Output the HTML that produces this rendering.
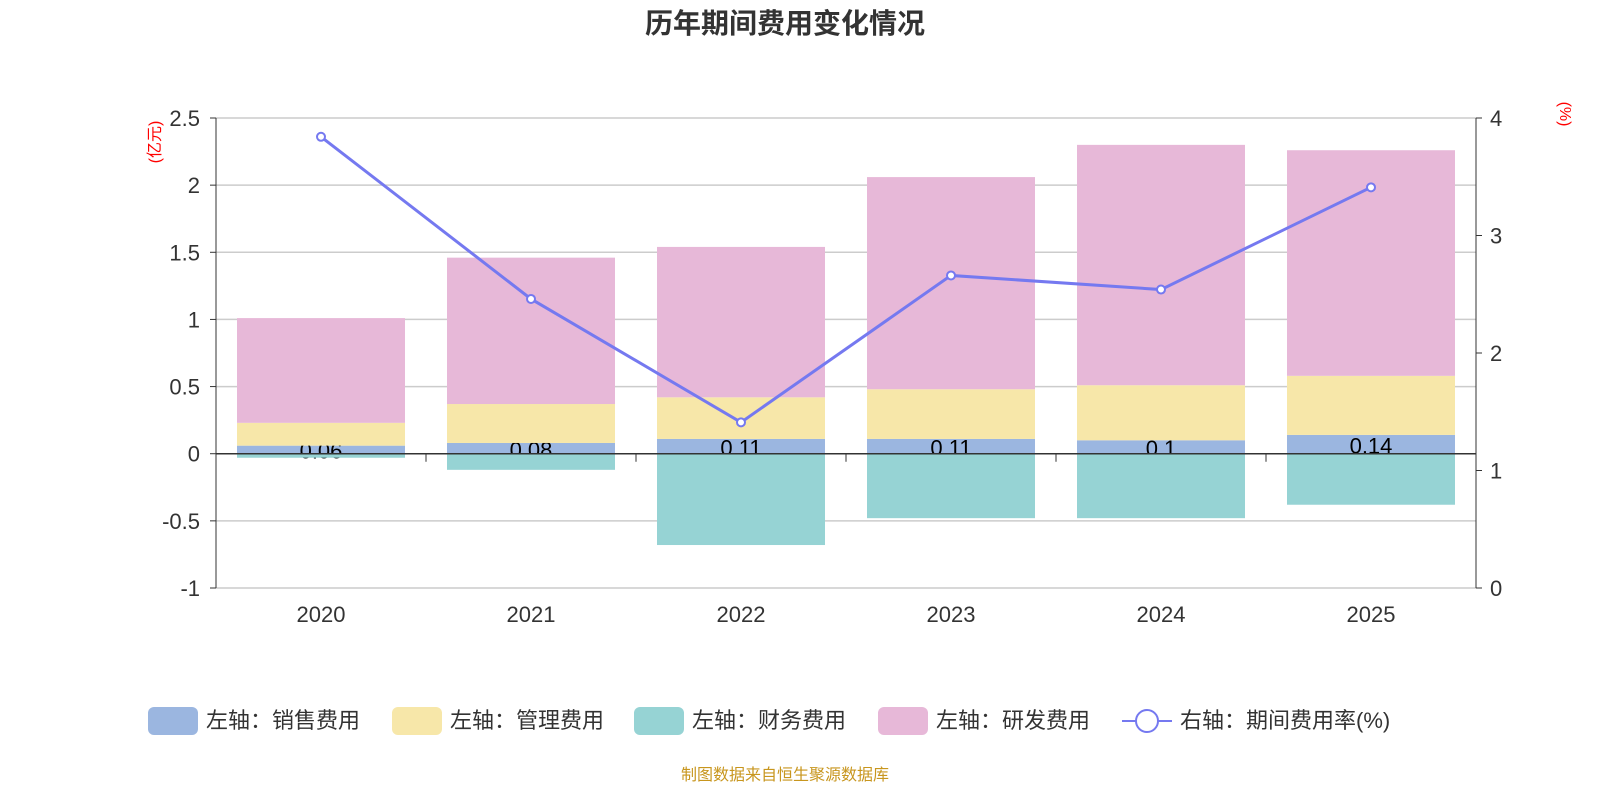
<!DOCTYPE html>
<html><head><meta charset="utf-8"><style>
body{margin:0;background:#fff;width:1600px;height:800px;overflow:hidden;font-family:"Liberation Sans","Noto Sans CJK SC",sans-serif}
</style></head><body>
<svg id="c" width="1600" height="800" xmlns="http://www.w3.org/2000/svg"></svg>
<script>
const categories=['2020','2021','2022','2023','2024','2025'];
const sales=[0.06,0.08,0.11,0.11,0.1,0.14];
const mgmt=[0.17,0.29,0.31,0.37,0.41,0.44];
const finance=[-0.03,-0.12,-0.68,-0.48,-0.48,-0.38];
const rnd=[0.78,1.09,1.12,1.58,1.79,1.68];
const rate=[3.84,2.46,1.41,2.66,2.54,3.41];
const leftTicks=[-1,-0.5,0,0.5,1,1.5,2,2.5];
const rightTicks=[0,1,2,3,4];
const salesLabels=['0.06','0.08','0.11','0.11','0.1','0.14'];

const NS='http://www.w3.org/2000/svg',svg=document.getElementById('c');
function el(t,a,txt){const e=document.createElementNS(NS,t);for(const k in a)e.setAttribute(k,a[k]);if(txt!=null)e.textContent=txt;svg.appendChild(e);return e;}
const X0=216,X1=1476,band=(X1-X0)/categories.length,BW=168;
const yL=v=>588-(v+1)*(470/3.5);
const yR=v=>588-v*(470/4);
const xc=i=>X0+band*(i+0.5);
const font='"Liberation Sans","Noto Sans CJK SC",sans-serif';

let t=el('text',{x:785,y:33,'text-anchor':'middle','font-size':28,'font-weight':'bold',fill:'#333','font-family':font},'历年期间费用变化情况');


leftTicks.forEach(v=>{
 if(v!==0){const g=el('line',{x1:X0,x2:X1,y1:yL(v),y2:yL(v),stroke:'#ccc','stroke-width':1.5});}
 const l=el('text',{x:200,y:yL(v)+8,'text-anchor':'end','font-size':22,fill:'#333','font-family':font},String(v));
 
 el('line',{x1:X0-6,x2:X0,y1:yL(v),y2:yL(v),stroke:'#333'});
});
rightTicks.forEach(v=>{
 const l=el('text',{x:1490,y:yR(v)+8,'font-size':22,fill:'#333','font-family':font},String(v));
 
 el('line',{x1:X1,x2:X1+6,y1:yR(v),y2:yR(v),stroke:'#333'});
});
let a=el('line',{x1:X0,x2:X0,y1:118,y2:588,stroke:'#333'});
a=el('line',{x1:X1,x2:X1,y1:118,y2:588,stroke:'#333'});
let u=el('text',{x:0,y:0,'font-size':16,fill:'red','font-family':font,transform:'translate(160,142) rotate(-90)','text-anchor':'middle'},'(亿元)');

u=el('text',{x:0,y:0,'font-size':16,fill:'red','font-family':font,transform:'translate(1560,114) rotate(90)','text-anchor':'middle'},'(%)');


categories.forEach((c,i)=>{
 const x=xc(i)-BW/2;
 let r=el('rect',{x,y:yL(sales[i]),width:BW,height:yL(0)-yL(sales[i]),fill:'#9bb6e0'});
 let lb=el('text',{x:xc(i),y:yL(sales[i]/2)+9,'text-anchor':'middle','font-size':22,fill:'#000','font-family':font},salesLabels[i]);
 const m0=sales[i],m1=sales[i]+mgmt[i];
 r=el('rect',{x,y:yL(m1),width:BW,height:yL(m0)-yL(m1),fill:'#f7e7a9'});
 r=el('rect',{x,y:yL(0),width:BW,height:yL(finance[i])-yL(0),fill:'#96d3d4'});
 const r1=m1+rnd[i];
 r=el('rect',{x,y:yL(r1),width:BW,height:yL(m1)-yL(r1),fill:'#e7b8d8'});
 const xl=el('text',{x:xc(i),y:622,'text-anchor':'middle','font-size':22,fill:'#333','font-family':font},c);
});
let z=el('line',{x1:X0,x2:X1,y1:yL(0),y2:yL(0),stroke:'#333','stroke-width':1.5});
for(let i=0;i<=categories.length;i++){el('line',{x1:X0+band*i,x2:X0+band*i,y1:yL(0),y2:yL(0)+8,stroke:'#333'});}

const pts=rate.map((v,i)=>xc(i)+','+yR(v)).join(' ');
let pl=el('polyline',{points:pts,fill:'none',stroke:'#7579f0','stroke-width':3});
rate.forEach((v,i)=>{const p=el('circle',{cx:xc(i),cy:yR(v),r:4,fill:'#fff',stroke:'#7579f0','stroke-width':2});});

const leg=[['左轴：销售费用','#9bb6e0',148],['左轴：管理费用','#f7e7a9',392],['左轴：财务费用','#96d3d4',634],['左轴：研发费用','#e7b8d8',878]];
leg.forEach(([n,c,x])=>{
 const g=el('rect',{x,y:707,width:50,height:28,rx:6,fill:c});
 const tt=el('text',{x:x+58,y:728,'font-size':22,fill:'#333','font-family':font},n);
});
el('line',{x1:1122,x2:1172,y1:721,y2:721,stroke:'#7579f0','stroke-width':2});
let lc=el('circle',{cx:1147,cy:721,r:11,fill:'#fff',stroke:'#7579f0','stroke-width':2});
let lt=el('text',{x:1180,y:728,'font-size':22,fill:'#333','font-family':font},'右轴：期间费用率(%)');
let s=el('text',{x:785,y:780,'text-anchor':'middle','font-size':16,fill:'#c8961e','font-family':font},'制图数据来自恒生聚源数据库');
</script>
</body></html>
